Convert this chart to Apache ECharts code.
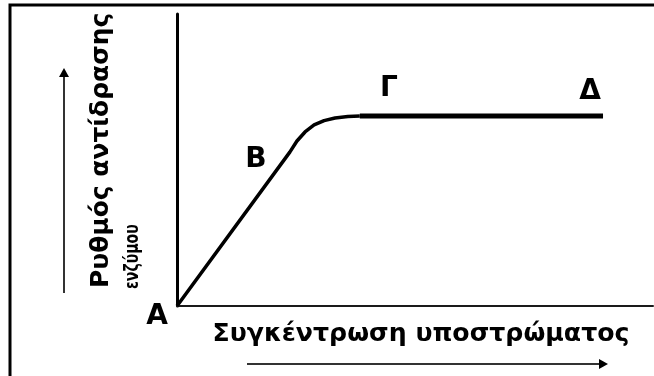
<!DOCTYPE html>
<html>
<head>
<meta charset="utf-8">
<script src="https://cdn.jsdelivr.net/npm/echarts@6/dist/echarts.min.js"></script>
<style>
  html, body { margin: 0; padding: 0; background: #fff; }
  #chart { width: 654px; height: 376px; }
</style>
</head>
<body>
<div id="chart"></div>
<script>
// rising part of the curve (A -> B -> knee), arbitrary units 0-100
var riseX = [0, 23.7, 25.2, 26.9, 28.8, 30.9, 33.2, 35.9, 38.4]
var riseY = [0, 52.7, 56.5, 59.6, 62.0, 63.5, 64.4, 64.9, 65.1]
// plateau (Γ -> Δ)
var plateauX = [38.4, 89.5]
var plateauY = [65.1, 65.1]

var yTitle1 = 'Ρυθμός αντίδρασης'
var yTitle2 = 'ενζύμου'
var xTitle = 'Συγκέντρωση υποστρώματος'
var pointLabels = ['Α', 'Β', 'Γ', 'Δ']

function pairs(xs, ys) {
  return xs.map(function (x, i) { return [x, ys[i]] })
}

var FONT = '"DejaVu Sans", Verdana, sans-serif'

function txt(text, x, y, size, opts) {
  opts = opts || {}
  return {
    type: 'text',
    x: x,
    y: y,
    rotation: opts.rotation || 0,
    scaleX: opts.scaleX || 1,
    style: {
      text: text,
      fill: '#000',
      fontSize: size,
      fontWeight: 'bold',
      fontFamily: FONT,
      align: opts.align || 'center',
      verticalAlign: 'middle',
      textAlign: opts.align || 'center',
      textVerticalAlign: 'middle'
    }
  }
}

var chart = echarts.init(document.getElementById('chart'))

var option = {
  backgroundColor: '#fff',
  animation: false,
  grid: {
    left: 177,
    right: 1,
    top: 14,
    bottom: 70
  },
  xAxis: {
    type: 'value',
    min: 0,
    max: 100,
    axisLine: { show: true, lineStyle: { color: '#1a1a1a', width: 2 } },
    axisTick: { show: false },
    axisLabel: { show: false },
    splitLine: { show: false }
  },
  yAxis: {
    type: 'value',
    min: 0,
    max: 100,
    axisLine: { show: true, lineStyle: { color: '#000', width: 3 } },
    axisTick: { show: false },
    axisLabel: { show: false },
    splitLine: { show: false }
  },
  series: [
    {
      type: 'line',
      data: pairs(riseX, riseY),
      symbol: 'none',
      lineStyle: { color: '#000', width: 3.5 }
    },
    {
      type: 'line',
      data: pairs(plateauX, plateauY),
      symbol: 'none',
      lineStyle: { color: '#000', width: 5 }
    }
  ],
  graphic: [
    // frame (top and left edges only)
    {
      type: 'polyline',
      shape: { points: [[10, 376], [10, 5], [654, 5]] },
      style: { stroke: '#000', lineWidth: 3, fill: null }
    },
    // vertical arrow
    {
      type: 'line',
      shape: { x1: 64, y1: 293, x2: 64, y2: 74 },
      style: { stroke: '#333', lineWidth: 2 }
    },
    {
      type: 'polygon',
      shape: { points: [[64, 68], [59, 77], [69, 77]] },
      style: { fill: '#000' }
    },
    // horizontal arrow
    {
      type: 'line',
      shape: { x1: 247, y1: 364, x2: 602, y2: 364 },
      style: { stroke: '#333', lineWidth: 2 }
    },
    {
      type: 'polygon',
      shape: { points: [[608, 364], [599, 359], [599, 369]] },
      style: { fill: '#000' }
    },
    // axis titles
    txt(yTitle1, 102, 288, 24, { rotation: Math.PI / 2, align: 'left', scaleX: 1.04 }),
    txt(yTitle2, 133, 289, 19, { rotation: Math.PI / 2, align: 'left', scaleX: 0.74 }),
    txt(xTitle, 421, 335, 24, { scaleX: 1.05 }),
    // point labels
    txt(pointLabels[0], 157, 317, 28),
    txt(pointLabels[1], 256, 160, 28),
    txt(pointLabels[2], 389, 89, 28),
    txt(pointLabels[3], 590, 92, 28)
  ]
}

chart.setOption(option)
</script>
</body>
</html>
